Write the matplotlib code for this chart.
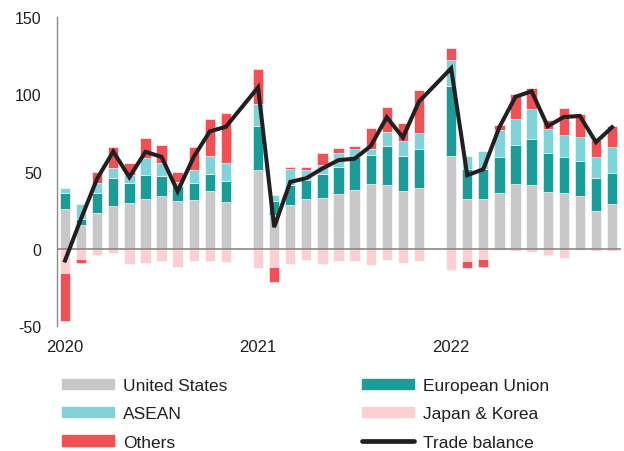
import matplotlib
matplotlib.use("Agg")
import matplotlib.pyplot as plt
from matplotlib.patches import Patch
from matplotlib.lines import Line2D
import numpy as np

plt.rcParams['font.family'] = ['Liberation Sans', 'DejaVu Sans']

years = [2020, 2021, 2022]
periods = ["Jan-Feb", "Mar", "Apr", "May", "Jun", "Jul", "Aug", "Sep", "Oct", "Nov", "Dec"]

united_states = [25.5, 15.2, 22.9, 27.9, 29.4, 32.5, 34.4, 31.0, 31.6, 37.4, 30.1,
                 51.3, 21.6, 28.6, 32.0, 32.9, 35.7, 37.9, 42.2, 41.1, 37.2, 39.4,
                 59.9, 32.5, 32.5, 36.4, 41.8, 41.6, 36.8, 36.2, 34.2, 24.2, 29.2]
european_union = [10.4, 4.3, 13.5, 18.2, 13.2, 15.3, 13.0, 9.5, 10.8, 11.3, 13.6,
                  28.1, 9.1, 12.5, 12.4, 15.2, 17.3, 21.6, 18.4, 25.6, 22.7, 25.1,
                  45.7, 19.4, 19.4, 23.1, 25.3, 29.2, 25.1, 22.9, 22.5, 21.9, 19.7]
asean = [3.5, 9.3, 6.5, 6.5, 5.0, 10.9, 8.4, 2.8, 8.7, 11.2, 12.1,
         14.3, 4.4, 10.4, 6.5, 6.4, 9.1, 5.4, 4.3, 9.1, 9.8, 10.2,
         16.3, 8.0, 11.5, 17.3, 16.7, 19.7, 15.4, 14.5, 15.8, 13.6, 17.3]
japan_korea = [-15.6, -6.9, -4.3, -2.6, -9.7, -9.1, -8.0, -11.9, -7.6, -8.2, -8.7,
               -12.3, -11.9, -9.7, -7.1, -9.7, -8.0, -8.2, -10.8, -7.1, -9.3, -7.6,
               -13.6, -8.2, -6.5, -0.9, -1.7, -2.2, -3.7, -5.8, -1.1, -1.7, -1.3]
others = [-31.4, -2.2, 6.9, 13.0, 8.2, 12.7, 11.7, 6.1, 15.1, 24.3, 31.9,
          22.5, -9.3, 1.5, 2.1, 7.2, 3.3, 1.5, 13.0, 16.2, 11.9, 28.1,
          8.4, -4.1, -5.4, 3.3, 16.2, 13.4, 6.0, 17.3, 14.5, 10.6, 13.5]
trade_balance = [-7.6, 19.6, 45.5, 63.0, 46.3, 62.8, 59.5, 37.2, 59.5, 76.0, 79.0,
                 104.5, 14.0, 43.3, 45.7, 52.0, 57.4, 58.3, 66.5, 85.2, 72.0, 95.3,
                 116.8, 47.6, 51.5, 78.8, 98.4, 102.0, 79.3, 85.3, 86.0, 69.0, 78.7]

series = [
    ("United States", united_states, "#c8c8ca"),
    ("European Union", european_union, "#1b9c99"),
    ("ASEAN", asean, "#82d2da"),
    ("Japan & Korea", japan_korea, "#fcd0d3"),
    ("Others", others, "#f05157"),
]

# x position: 12 slots per year, periods fill the first 11
x = np.array([yi * 12 + pi for yi in range(len(years)) for pi in range(len(periods))], dtype=float)

fig = plt.figure(figsize=(6.24, 4.52), dpi=100)
ax = fig.add_axes([0.0913, 0.2765, 0.9037, 0.6835])

pos_bottom = np.zeros(len(x))
neg_bottom = np.zeros(len(x))
for name, vals, color in series:
    v = np.array(vals)
    bottom = np.where(v >= 0, pos_bottom, neg_bottom)
    ax.bar(x, v, bottom=bottom, width=0.64, color=color, edgecolor='white', linewidth=0.4, zorder=2)
    pos_bottom = pos_bottom + np.where(v >= 0, v, 0)
    neg_bottom = neg_bottom + np.where(v < 0, v, 0)

ax.plot(x, trade_balance, color="#231f20", linewidth=2.9, zorder=4, solid_joinstyle='miter')
ax.axhline(0, color="#7f7f7f", linewidth=1.1, zorder=3)

ax.set_xlim(-0.5, 34.55)
ax.set_ylim(-50, 150)
ax.set_yticks([-50, 0, 50, 100, 150])
ax.set_yticklabels(["-50", "0", "50", "100", "150"])
ax.set_xticks([i * 12 for i in range(len(years))])
ax.set_xticklabels([str(y) for y in years])
ax.tick_params(axis='both', length=0, colors="#231f20")
ax.tick_params(axis='y', pad=11, labelsize=11.5)
ax.tick_params(axis='x', pad=9, labelsize=12)
for s in ["top", "right", "bottom"]:
    ax.spines[s].set_visible(False)
ax.spines["left"].set_color("#8a8a8a")
ax.spines["left"].set_linewidth(1.0)

handles = [
    Patch(color="#c8c8ca"), Patch(color="#82d2da"), Patch(color="#f05157"),
    Patch(color="#1b9c99"), Patch(color="#fcd0d3"),
    Line2D([0], [0], color="#231f20", linewidth=3.4, solid_capstyle='round'),
]
labels = ["United States", "ASEAN", "Others", "European Union", "Japan & Korea", "Trade balance"]
fig.legend(handles, labels, ncol=2, loc="upper left", bbox_to_anchor=(0.0994, 0.161),
           frameon=False, fontsize=12.5, handlelength=3.0, handleheight=0.52,
           labelspacing=0.76, columnspacing=7.75, handletextpad=0.52,
           labelcolor="#231f20", borderaxespad=0, borderpad=0)

fig.savefig("out.png", dpi=100)
